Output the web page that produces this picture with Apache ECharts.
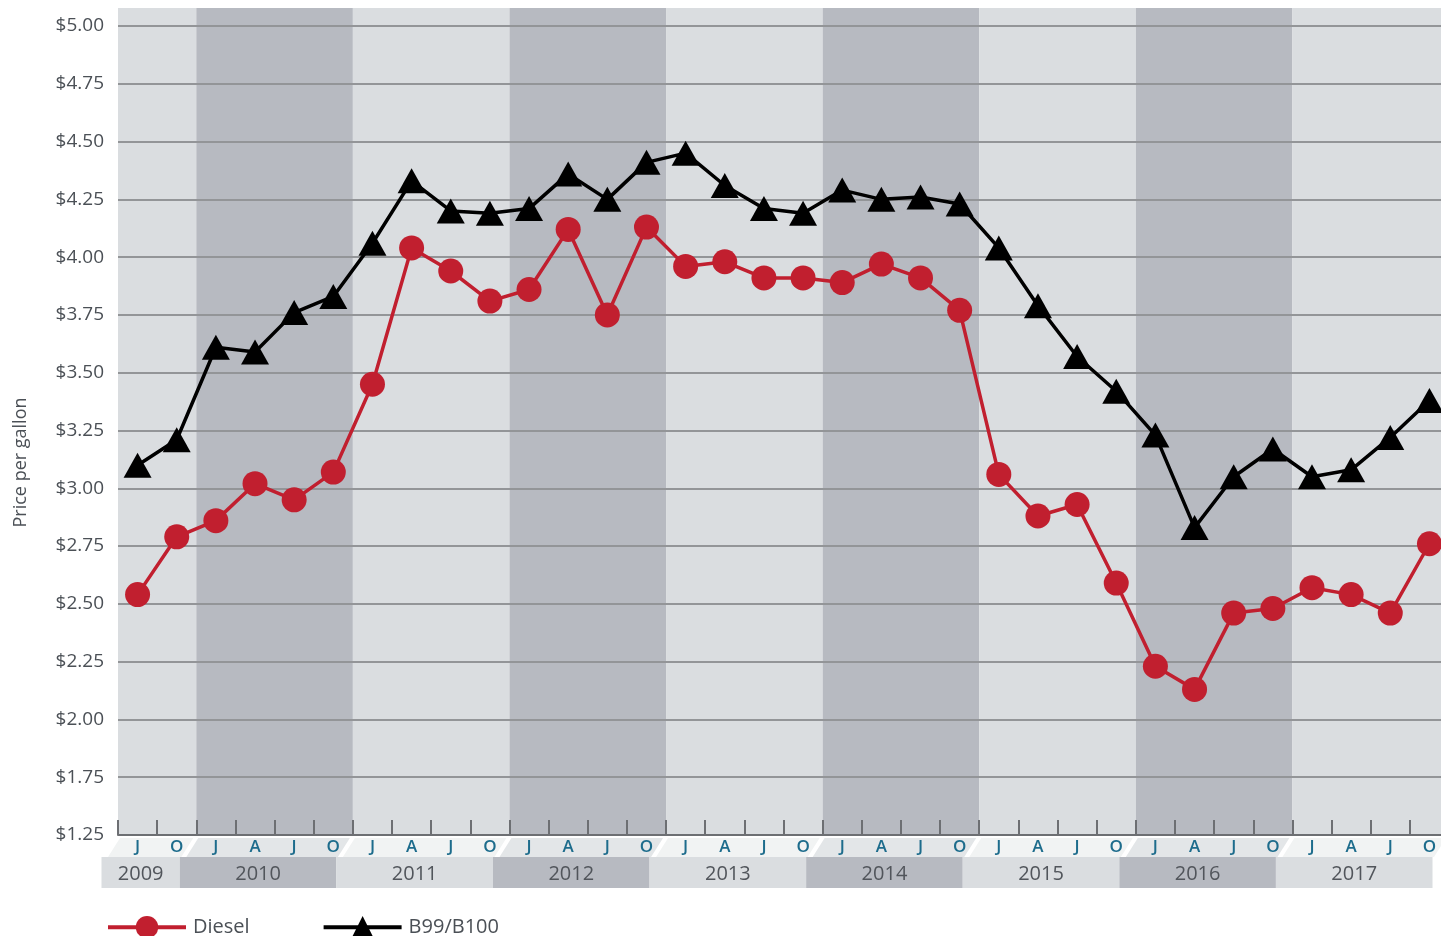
<!DOCTYPE html>
<html>
<head>
<meta charset="utf-8">
<title>Diesel vs B99/B100 prices</title>
<script src="https://cdn.jsdelivr.net/npm/echarts@6/dist/echarts.min.js"></script>
<style>
  html, body { margin: 0; padding: 0; background: #fff; }
  #chart { width: 1441px; height: 936px; }
</style>
</head>
<body>
<div id="chart"></div>
<script>
// quarterly points, Jul 2009 .. Oct 2017
const quarters = [
  'Jul 2009', 'Oct 2009',
  'Jan 2010', 'Apr 2010', 'Jul 2010', 'Oct 2010',
  'Jan 2011', 'Apr 2011', 'Jul 2011', 'Oct 2011',
  'Jan 2012', 'Apr 2012', 'Jul 2012', 'Oct 2012',
  'Jan 2013', 'Apr 2013', 'Jul 2013', 'Oct 2013',
  'Jan 2014', 'Apr 2014', 'Jul 2014', 'Oct 2014',
  'Jan 2015', 'Apr 2015', 'Jul 2015', 'Oct 2015',
  'Jan 2016', 'Apr 2016', 'Jul 2016', 'Oct 2016',
  'Jan 2017', 'Apr 2017', 'Jul 2017', 'Oct 2017'
]

const diesel = [
  2.54, 2.79,
  2.86, 3.02, 2.95, 3.07,
  3.45, 4.04, 3.94, 3.81,
  3.86, 4.12, 3.75, 4.13,
  3.96, 3.98, 3.91, 3.91,
  3.89, 3.97, 3.91, 3.77,
  3.06, 2.88, 2.93, 2.59,
  2.23, 2.13, 2.46, 2.48,
  2.57, 2.54, 2.46, 2.76
]

const b99b100 = [
  3.10, 3.21,
  3.61, 3.59, 3.76, 3.83,
  4.06, 4.33, 4.20, 4.19,
  4.21, 4.36, 4.25, 4.41,
  4.45, 4.31, 4.21, 4.19,
  4.29, 4.25, 4.26, 4.23,
  4.04, 3.79, 3.57, 3.42,
  3.23, 2.83, 3.05, 3.17,
  3.05, 3.08, 3.22, 3.38
]

const years = ['2009', '2010', '2011', '2012', '2013', '2014', '2015', '2016', '2017']

// the original axis skips $1.50: the bottom line is labelled $1.25
const yTickLabels = ['$1.25', '$1.75', '$2.00', '$2.25', '$2.50', '$2.75', '$3.00', '$3.25',
  '$3.50', '$3.75', '$4.00', '$4.25', '$4.50', '$4.75', '$5.00']

// [first quarter index, last quarter index, year index]
const yearSpans = years.map((y, k) => {
  const idx = quarters.map((q, i) => q.endsWith(y) ? i : -1).filter(i => i >= 0)
  return [idx[0], idx[idx.length - 1], k]
})

const FONT = '"Open Sans", "Noto Sans", sans-serif'
const colLight = '#dadde0'
const colDark = '#b7bac1'
const textGrey = '#4b5056'

function renderYear(params, api) {
  const cs = params.coordSys
  const bw = api.size([1, 0])[0]
  const x0 = api.coord([api.value(0), 3])[0] - bw / 2
  const x1 = api.coord([api.value(1), 3])[0] + bw / 2
  const k = api.value(2)
  const dark = k % 2 === 1
  const bottom = cs.y + cs.height
  const shift = -16.5
  return {
    type: 'group',
    children: [
      { // year column behind the plot
        type: 'rect',
        shape: { x: x0, y: cs.y - 18, width: x1 - x0, height: cs.height + 18 },
        style: { fill: dark ? colDark : colLight }
      },
      { // month letter strip
        type: 'polygon',
        shape: { points: [[x0 - 10, bottom + 22], [x0 + 2, bottom + 3], [x1 - 3, bottom + 3], [x1 - 15, bottom + 22]] },
        style: { fill: dark ? '#e3e6e8' : '#f1f3f3' }
      },
      { // year label strip
        type: 'rect',
        shape: { x: x0 + shift, y: bottom + 22, width: x1 - x0, height: 31 },
        style: { fill: dark ? colDark : colLight }
      },
      {
        type: 'text',
        x: (x0 + x1) / 2 + shift,
        y: bottom + 39,
        style: {
          text: years[k], fill: '#51555b', font: '20px ' + FONT,
          align: 'center', verticalAlign: 'middle'
        }
      }
    ]
  }
}

const option = {
  animation: false,
  textStyle: { fontFamily: FONT },
  grid: { left: 118, top: 26, width: 1331, height: 809, containLabel: false, outerBoundsMode: 'none' },
  legend: {
    data: ['Diesel', 'B99/B100'],
    left: 101,
    top: 911,
    itemWidth: 78,
    itemHeight: 28,
    itemGap: 72,
    lineStyle: { width: 4 },
    textStyle: { color: textGrey, fontSize: 20, fontFamily: FONT, padding: [0, 0, 0, 2] }
  },
  xAxis: {
    type: 'category',
    data: quarters,
    boundaryGap: true,
    axisLine: { show: true, lineStyle: { color: '#6d6f73', width: 2 } },
    axisTick: { show: true, inside: true, length: 15, lineStyle: { color: '#6d6f73', width: 2 } },
    axisLabel: {
      interval: 0,
      margin: 4,
      color: '#1d6c8c',
      fontSize: 17,
      fontWeight: 600,
      formatter: v => v[0]
    },
    splitLine: { show: false }
  },
  yAxis: {
    type: 'value',
    min: 1.5,
    max: 5,
    interval: 0.25,
    name: 'Price per gallon',
    nameLocation: 'middle',
    nameGap: 88,
    nameTextStyle: { color: textGrey, fontSize: 18, fontFamily: FONT, padding: [0, 64, 0, 0] },
    axisLine: { show: false },
    axisTick: { show: false },
    axisLabel: {
      margin: 14,
      color: textGrey,
      fontSize: 19,
      formatter: v => yTickLabels[Math.round((v - 1.5) / 0.25)]
    },
    splitLine: { show: true, lineStyle: { color: '#939598', width: 2 } }
  },
  series: [
    {
      type: 'custom',
      name: 'years',
      data: yearSpans,
      encode: { x: [0, 1] },
      renderItem: renderYear,
      clip: false,
      silent: true,
      z: -1
    },
    {
      name: 'Diesel',
      type: 'line',
      data: diesel,
      symbol: 'circle',
      symbolSize: 25,
      lineStyle: { color: '#c11f2f', width: 3.5 },
      itemStyle: { color: '#c11f2f' },
      z: 3
    },
    {
      name: 'B99/B100',
      type: 'line',
      data: b99b100,
      symbol: 'triangle',
      symbolSize: [28, 25],
      lineStyle: { color: '#000', width: 3.5 },
      itemStyle: { color: '#000' },
      z: 4
    }
  ]
}

const chart = echarts.init(document.getElementById('chart'), null, { renderer: 'canvas' })
chart.setOption(option)
</script>
</body>
</html>
